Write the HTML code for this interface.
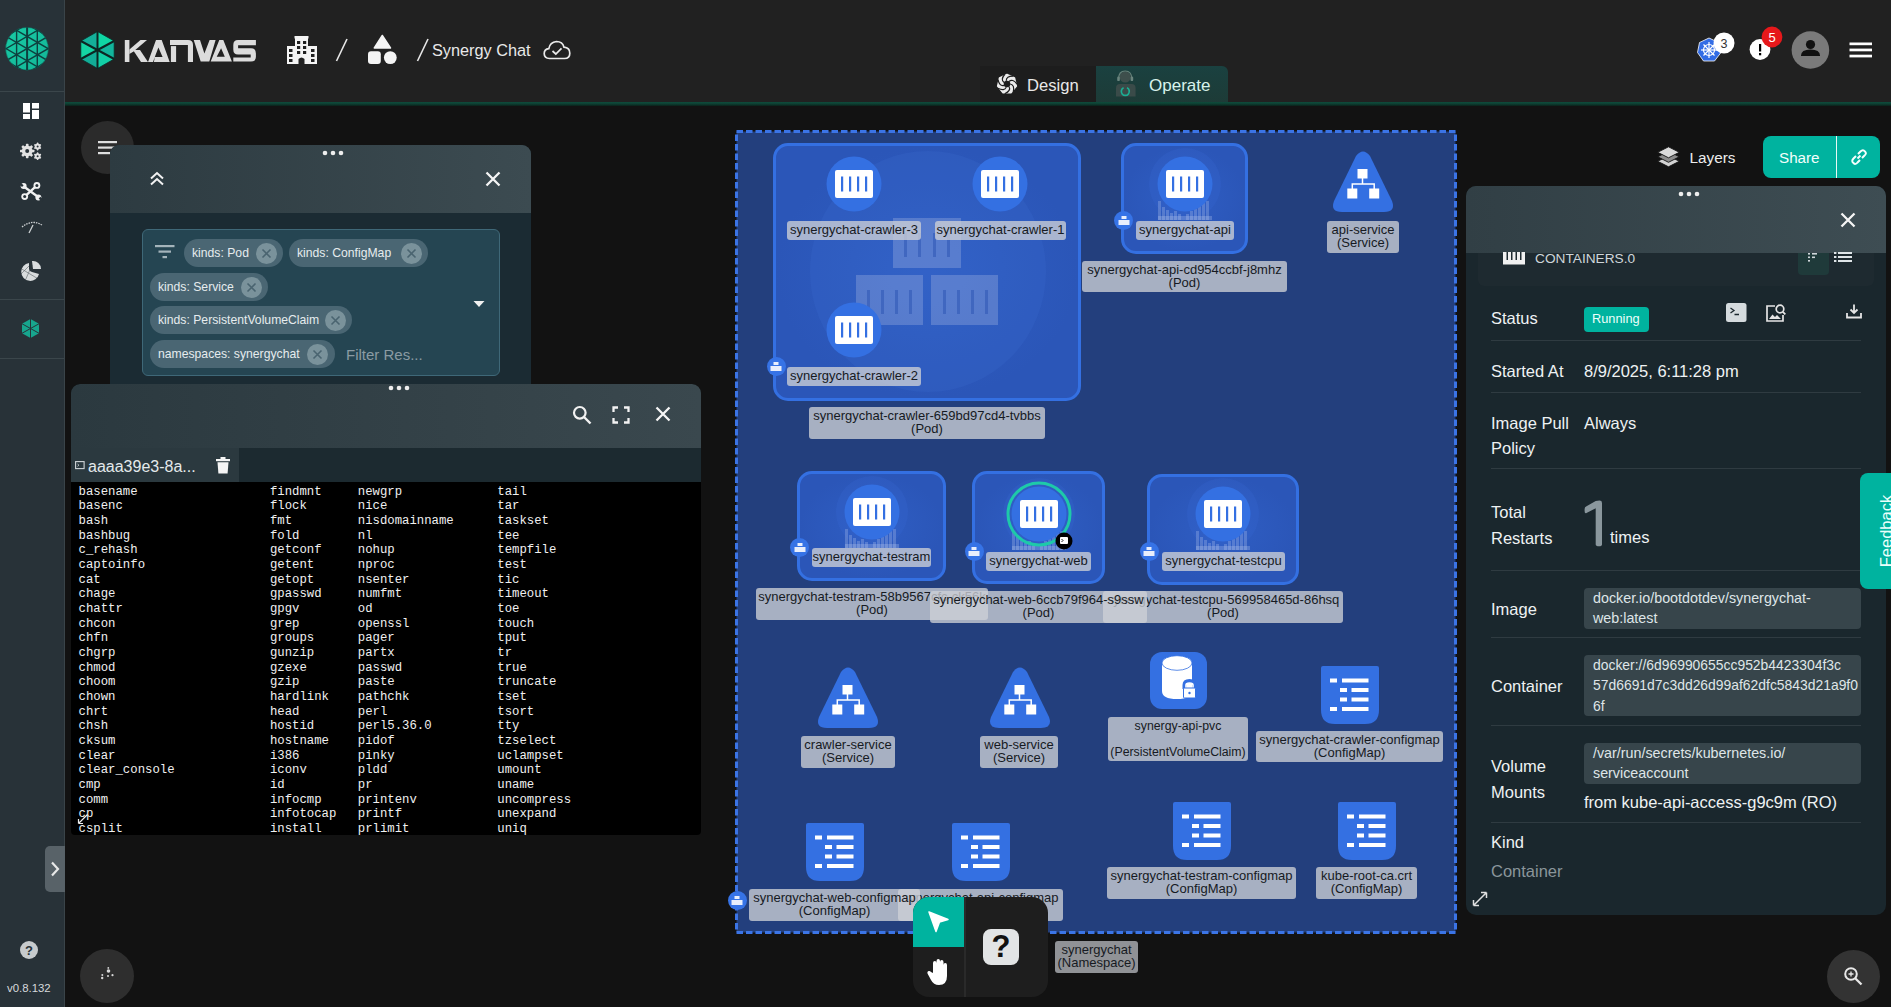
<!DOCTYPE html>
<html><head><meta charset="utf-8">
<style>
*{box-sizing:border-box;margin:0;padding:0}
html,body{width:1891px;height:1007px;overflow:hidden;background:#121212;font-family:"Liberation Sans",sans-serif;color:#fff}
.a{position:absolute}
svg{position:absolute;overflow:visible}
#side{left:0;top:0;width:65px;height:1007px;background:#283238;border-right:1px solid #3a4449}
.sep{position:absolute;left:0;width:64px;height:1px;background:#3b464b}
#hdr{left:65px;top:0;width:1826px;height:102px;background:#212121}
#hdrline{left:65px;top:101.5px;width:1826px;height:4px;background:linear-gradient(#0f4c3c,#0d4033 45%,#0b2019)}
.tx{position:absolute;white-space:nowrap;line-height:1}

.lbl{position:absolute;background:rgba(205,208,214,0.78);color:#161a22;font-size:13px;line-height:12.5px;text-align:center;border-radius:3px;white-space:nowrap;padding-top:3px}
.pod{position:absolute;border:3px solid #3470e2;border-radius:15px;background:radial-gradient(closest-side,#2f5ec4,#2b56b8)}
.bdg{position:absolute;width:19px;height:19px;border-radius:50%;background:#3673e6}

.chip{position:absolute;height:28px;border-radius:14px;background:#4a6673;color:#e6ecee;font-size:12.2px;line-height:29px;padding-left:8px;white-space:nowrap}
.chx{position:absolute;top:3.5px;width:21px;height:21px;border-radius:50%;background:#7a929b}
.mono{position:absolute;font-family:"Liberation Mono",monospace;font-size:12.3px;line-height:14.67px;color:#f0f0f0;white-space:pre}
.rl{position:absolute;left:1491px;font-size:16.5px;color:#eef2f3;white-space:nowrap;line-height:1}
.rv{position:absolute;left:1584px;font-size:16.5px;color:#eef2f3;white-space:nowrap;line-height:1}
.dv{position:absolute;left:1491px;width:370px;height:1px;background:#2f3b41}
.vb{position:absolute;left:1584px;width:277px;background:#37454b;border-radius:4px;color:#dfe5e8;font-size:14.3px;line-height:20.3px;padding:0 0 0 9px;white-space:nowrap}
</style></head><body>
<!-- SIDEBAR -->
<div id="side" class="a">
  <svg width="65" height="100" style="left:0;top:0">
    <defs><clipPath id="cc"><circle cx="27" cy="48.7" r="21.5"/></clipPath><linearGradient id="mg" x1="0" y1="0" x2="1" y2="1"><stop offset="0" stop-color="#19cba5"/><stop offset="1" stop-color="#13b597"/></linearGradient></defs>
    <circle cx="27" cy="48.7" r="21.5" fill="url(#mg)"/>
    <g clip-path="url(#cc)" stroke="#0e3f3e" stroke-width="1.4">
      <line x1="16.6" y1="20" x2="16.6" y2="80"/><line x1="27.1" y1="20" x2="27.1" y2="80" stroke-width="2"/><line x1="37.3" y1="20" x2="37.3" y2="80"/>
      <line x1="-10" y1="-21.7" x2="60" y2="18.9"/><line x1="-10" y1="21.3" x2="60" y2="-19.3"/><line x1="-10" y1="-9.5" x2="60" y2="31.1"/><line x1="-10" y1="33.5" x2="60" y2="-7.1"/><line x1="-10" y1="2.7" x2="60" y2="43.3"/><line x1="-10" y1="45.7" x2="60" y2="5.1"/><line x1="-10" y1="14.9" x2="60" y2="55.5"/><line x1="-10" y1="57.9" x2="60" y2="17.3"/><line x1="-10" y1="27.1" x2="60" y2="67.7"/><line x1="-10" y1="70.1" x2="60" y2="29.5"/><line x1="-10" y1="39.3" x2="60" y2="79.9"/><line x1="-10" y1="82.3" x2="60" y2="41.7"/><line x1="-10" y1="51.5" x2="60" y2="92.1"/><line x1="-10" y1="94.5" x2="60" y2="53.9"/><line x1="-10" y1="63.7" x2="60" y2="104.3"/><line x1="-10" y1="106.7" x2="60" y2="66.1"/><line x1="-10" y1="75.9" x2="60" y2="116.5"/><line x1="-10" y1="118.9" x2="60" y2="78.3"/>
    </g>
    <circle cx="27" cy="48.7" r="21.3" fill="none" stroke="#0e3f3e" stroke-width="0.8" opacity="0.6"/>
  </svg>
  <div class="sep" style="top:91px"></div>
  <svg width="16" height="16" style="left:23px;top:103px" viewBox="0 0 16 16"><rect x="0" y="0" width="7" height="9.5" fill="#fff"/><rect x="9" y="0" width="7" height="5.5" fill="#fff"/><rect x="0" y="11" width="7" height="5" fill="#fff"/><rect x="9" y="7" width="7" height="9" fill="#fff"/></svg>
  <svg width="26" height="22" style="left:18px;top:140px" viewBox="0 0 26 22"><circle cx="9.2" cy="11" r="5.4" fill="#e2e2e2"/><rect x="7.8999999999999995" y="3.8" width="2.6" height="2.8" rx="0.6" fill="#e2e2e2" transform="rotate(0.0 9.2 11)"/><rect x="7.8999999999999995" y="3.8" width="2.6" height="2.8" rx="0.6" fill="#e2e2e2" transform="rotate(45.0 9.2 11)"/><rect x="7.8999999999999995" y="3.8" width="2.6" height="2.8" rx="0.6" fill="#e2e2e2" transform="rotate(90.0 9.2 11)"/><rect x="7.8999999999999995" y="3.8" width="2.6" height="2.8" rx="0.6" fill="#e2e2e2" transform="rotate(135.0 9.2 11)"/><rect x="7.8999999999999995" y="3.8" width="2.6" height="2.8" rx="0.6" fill="#e2e2e2" transform="rotate(180.0 9.2 11)"/><rect x="7.8999999999999995" y="3.8" width="2.6" height="2.8" rx="0.6" fill="#e2e2e2" transform="rotate(225.0 9.2 11)"/><rect x="7.8999999999999995" y="3.8" width="2.6" height="2.8" rx="0.6" fill="#e2e2e2" transform="rotate(270.0 9.2 11)"/><rect x="7.8999999999999995" y="3.8" width="2.6" height="2.8" rx="0.6" fill="#e2e2e2" transform="rotate(315.0 9.2 11)"/><circle cx="9.2" cy="11" r="2.0" fill="#283238"/><circle cx="19.6" cy="6.5" r="2.9" fill="#e2e2e2"/><rect x="18.8" y="2.6" width="1.6" height="2.0" rx="0.6" fill="#e2e2e2" transform="rotate(0.0 19.6 6.5)"/><rect x="18.8" y="2.6" width="1.6" height="2.0" rx="0.6" fill="#e2e2e2" transform="rotate(60.0 19.6 6.5)"/><rect x="18.8" y="2.6" width="1.6" height="2.0" rx="0.6" fill="#e2e2e2" transform="rotate(120.0 19.6 6.5)"/><rect x="18.8" y="2.6" width="1.6" height="2.0" rx="0.6" fill="#e2e2e2" transform="rotate(180.0 19.6 6.5)"/><rect x="18.8" y="2.6" width="1.6" height="2.0" rx="0.6" fill="#e2e2e2" transform="rotate(240.0 19.6 6.5)"/><rect x="18.8" y="2.6" width="1.6" height="2.0" rx="0.6" fill="#e2e2e2" transform="rotate(300.0 19.6 6.5)"/><circle cx="19.6" cy="6.5" r="1.0" fill="#283238"/><circle cx="19.6" cy="16.2" r="2.9" fill="#e2e2e2"/><rect x="18.8" y="12.299999999999999" width="1.6" height="2.0" rx="0.6" fill="#e2e2e2" transform="rotate(0.0 19.6 16.2)"/><rect x="18.8" y="12.299999999999999" width="1.6" height="2.0" rx="0.6" fill="#e2e2e2" transform="rotate(60.0 19.6 16.2)"/><rect x="18.8" y="12.299999999999999" width="1.6" height="2.0" rx="0.6" fill="#e2e2e2" transform="rotate(120.0 19.6 16.2)"/><rect x="18.8" y="12.299999999999999" width="1.6" height="2.0" rx="0.6" fill="#e2e2e2" transform="rotate(180.0 19.6 16.2)"/><rect x="18.8" y="12.299999999999999" width="1.6" height="2.0" rx="0.6" fill="#e2e2e2" transform="rotate(240.0 19.6 16.2)"/><rect x="18.8" y="12.299999999999999" width="1.6" height="2.0" rx="0.6" fill="#e2e2e2" transform="rotate(300.0 19.6 16.2)"/><circle cx="19.6" cy="16.2" r="1.0" fill="#283238"/></svg>
  <svg width="22" height="22" style="left:20px;top:180px" viewBox="0 0 22 22">
<g stroke="#f2f2f2" stroke-width="2.3" stroke-linecap="round"><line x1="5" y1="16.3" x2="16.6" y2="5.7"/><line x1="4.5" y1="7" x2="17.5" y2="16.5"/></g>
<circle cx="16.9" cy="5.4" r="3.4" fill="#f2f2f2"/><circle cx="16.9" cy="5.4" r="1.5" fill="#283238"/>
<circle cx="4.7" cy="16.6" r="3.4" fill="#f2f2f2"/><circle cx="4.7" cy="16.6" r="1.5" fill="#283238"/>
<circle cx="3.6" cy="6" r="3" fill="#f2f2f2"/><rect x="1.8" y="1" width="2.4" height="4.5" fill="#283238" transform="rotate(-50 3.6 6)"/>
<circle cx="18.4" cy="17.6" r="3" fill="#f2f2f2"/><rect x="17.8" y="18.5" width="2.4" height="4.5" fill="#283238" transform="rotate(-50 18.4 17.6)"/>
</svg>
  <svg width="22" height="15" style="left:21px;top:220px" viewBox="0 0 22 15"><path d="M1 7 Q11 -1 21 5" stroke="#cfd3d5" stroke-width="1.3" fill="none" stroke-dasharray="1.5 1"/><line x1="12" y1="5" x2="8" y2="13" stroke="#cfd3d5" stroke-width="1.3"/></svg>
  <svg width="22" height="21" style="left:20px;top:260px" viewBox="0 0 22 21"><path d="M9 3 A9 9 0 1 0 19 14 L12 12 A3.5 3.5 0 0 1 9 9 Z" fill="#d9dcdd"/><path d="M12 1 A8 8 0 0 1 21 9 L13 9 Z" fill="#d9dcdd"/><g stroke="#283238" stroke-width="0.6" opacity=".7"><line x1="0" y1="8" x2="20" y2="20"/><line x1="0" y1="15" x2="12" y2="3"/><line x1="5" y1="21" x2="12" y2="5"/></g></svg>
  <div class="sep" style="top:299px"></div>
  <svg width="19" height="19" style="left:21px;top:319px" viewBox="0 0 19 19"><polygon points="9.5,0 18,4.75 18,14.25 9.5,19 1,14.25 1,4.75" fill="#17a58e"/><g stroke="#283238" stroke-width="1"><line x1="9.5" y1="0" x2="9.5" y2="19"/><line x1="1" y1="4.75" x2="18" y2="14.25"/><line x1="18" y1="4.75" x2="1" y2="14.25"/></g></svg>
  <div class="sep" style="top:358px"></div>
  <div class="a" style="left:45px;top:846px;width:20px;height:46px;background:#586268;border-radius:5px 0 0 5px"></div>
  <svg width="10" height="16" style="left:50px;top:861px" viewBox="0 0 10 16"><path d="M2 1.5 L8 8 L2 14.5" stroke="#e8e8e8" stroke-width="2.2" fill="none"/></svg>
  <svg width="18" height="18" style="left:20px;top:941px" viewBox="0 0 18 18"><circle cx="9" cy="9" r="9" fill="#c7cbcd"/><text x="9" y="14" text-anchor="middle" font-family="Liberation Sans" font-weight="bold" font-size="13" fill="#283238">?</text></svg>
  <div class="tx" style="left:7px;top:983px;font-size:11.4px;color:#d6d9db">v0.8.132</div>
</div>
<!-- HEADER -->
<div id="hdr" class="a"></div>
<div id="hdrline" class="a"></div>
<svg width="36" height="38" style="left:80px;top:31px" viewBox="0 0 36 38"><polygon points="17.5,19 17.5,0.5 34.2,10" fill="#0fd6a4"/><polygon points="17.5,19 34.2,10 34.2,28" fill="#12b59c"/><polygon points="17.5,19 34.2,28 17.5,37.5" fill="#12cfa6"/><polygon points="17.5,19 17.5,37.5 0.8,28" fill="#12ad97"/><polygon points="17.5,19 0.8,28 0.8,10" fill="#14d5a4"/><polygon points="17.5,19 0.8,10 17.5,0.5" fill="#14b09a"/><polygon points="17.5,0.5 34.2,10 34.2,28 17.5,37.5 0.8,28 0.8,10" fill="none" stroke="#0d2b27" stroke-width="0.8"/><g stroke="#0d2623" stroke-width="2"><line x1="17.5" y1="0" x2="17.5" y2="38"/><line x1="0.8" y1="10" x2="34.2" y2="28"/><line x1="34.2" y1="10" x2="0.8" y2="28"/></g></svg>
<svg width="140" height="30" style="left:120px;top:34px" viewBox="0 0 140 30">
  <g fill="#dcdcdc">
    <rect x="4.8" y="6" width="4.6" height="22"/>
    <polygon points="9.4,15.5 20.5,6 27,6 13.5,17.5 9.4,20"/>
    <polygon points="13,16 20,16 28,28 21,28"/>
    <path d="M28,28 L36,6 L41.7,6 L49.7,28 L34,28 L33.9,28 L34.8,22.9 L42.6,22.9 L38.4,13.6 L34.8,22.9 L33,28 Z" fill-rule="evenodd"/>
    <rect x="50.9" y="12.1" width="5.2" height="15.9"/>
    <path d="M50,6 L68,6 Q73,6 73,11 L73,28 L67.9,28 L67.9,11 L50,11 Z"/>
    <polygon points="73.7,6.1 80,6.1 84.4,19.4 89.6,6.1 95.6,6.1 89.3,27.6 80.7,27.6"/>
    <path d="M90.7,27.6 L99.3,6.1 L103.3,6.1 L111.9,27.6 Z M101.1,14.2 L96.7,22.7 L104.8,22.7 Z" fill-rule="evenodd"/>
    <path d="M118,6.1 L135.9,6.1 L135.9,11.3 L118.1,11.3 L118.1,14.2 L131,14.2 Q135.9,14.2 135.9,19.5 L135.9,23 Q135.9,27.6 131,27.6 L113.3,27.6 L113.3,23.5 L130.7,23.5 L130.7,20.5 L118,20.5 Q113.3,20.5 113.3,15.5 L113.3,11 Q113.3,6.1 118,6.1 Z"/>
  </g>
</svg>
<svg width="30" height="28" style="left:287px;top:36px" viewBox="0 0 30 28">
  <g fill="#f4f4f4"><rect x="7.5" y="0" width="14" height="2.5"/><rect x="8" y="2" width="13" height="26"/><rect x="0" y="10" width="8" height="18"/><rect x="21" y="10" width="9" height="18"/></g>
  <g fill="#212121">
    <rect x="10" y="5" width="3.2" height="3"/><rect x="16" y="5" width="3.2" height="3"/><rect x="10" y="10" width="3.2" height="3"/><rect x="16" y="10" width="3.2" height="3"/><rect x="10" y="15" width="3.2" height="3"/><rect x="16" y="15" width="3.2" height="3"/>
    <path d="M11.5,28 L11.5,23 Q14.5,20 17.5,23 L17.5,28 Z"/>
    <rect x="2" y="13" width="3.5" height="3"/><rect x="2" y="18" width="3.5" height="3"/><rect x="2" y="23" width="3.5" height="3"/>
    <rect x="24" y="13" width="3.5" height="3"/><rect x="24" y="18" width="3.5" height="3"/><rect x="24" y="23" width="3.5" height="3"/>
  </g>
</svg>
<svg width="14" height="24" style="left:335px;top:38px"><line x1="12" y1="1" x2="1.5" y2="23" stroke="#e8e8e8" stroke-width="1.6"/></svg>
<svg width="32" height="30" style="left:367px;top:35px" viewBox="0 0 32 30">
  <g fill="#f4f4f4"><path d="M15.3,0.5 L23.5,13 L7.3,13 Z" stroke="#f4f4f4" stroke-width="1.5" stroke-linejoin="round"/><rect x="1" y="16.3" width="12.8" height="12.7" rx="3"/><circle cx="23.3" cy="22.6" r="6.4"/></g>
</svg>
<svg width="14" height="24" style="left:416px;top:38px"><line x1="12" y1="1" x2="1.5" y2="23" stroke="#e8e8e8" stroke-width="1.6"/></svg>
<div class="tx" style="left:432px;top:42px;font-size:16.3px;color:#e9e9e9">Synergy Chat</div>
<svg width="28" height="20" style="left:543px;top:40px" viewBox="0 0 28 20">
  <path d="M6.5,18.5 Q1.2,18.5 1.2,13.5 Q1.2,9 5.8,8.6 Q7,2.2 13.5,1.5 Q19.5,1.5 21,7.2 Q26.8,7.8 26.8,13.2 Q26.8,18.5 21.5,18.5 Z" fill="none" stroke="#eaeaea" stroke-width="1.7"/>
  <path d="M9.5,11 L12.8,14 L18.5,8.3" fill="none" stroke="#eaeaea" stroke-width="1.7"/>
</svg>
<!-- tabs -->
<div class="a" style="left:980px;top:66px;width:116px;height:36px;background:#1d1d1d"></div>
<div class="a" style="left:1096px;top:66px;width:132px;height:36px;background:linear-gradient(#1a4140,#1d3b37);border-radius:0 6px 0 0"></div>
<svg width="20" height="20" style="left:997px;top:74px" viewBox="0 0 20 20"><polygon points="10.00,0.40 17.51,4.01 19.36,12.14 14.17,18.65 5.83,18.65 0.64,12.14 2.49,4.01" fill="#ececec" stroke="#ececec" stroke-width="1.5" stroke-linejoin="round"/><circle cx="10" cy="10" r="3.3" fill="#1d1d1d"/><path d="M13.20,10.00 Q17.96,10.80 16.22,17.83" stroke="#1d1d1d" stroke-width="1.2" fill="none"/><path d="M12.00,12.50 Q14.34,16.72 7.75,19.74" stroke="#1d1d1d" stroke-width="1.2" fill="none"/><path d="M9.29,13.12 Q7.45,17.58 0.98,14.32" stroke="#1d1d1d" stroke-width="1.2" fill="none"/><path d="M7.12,11.39 Q2.48,12.73 1.00,5.64" stroke="#1d1d1d" stroke-width="1.2" fill="none"/><path d="M7.12,8.61 Q3.17,5.83 7.80,0.25" stroke="#1d1d1d" stroke-width="1.2" fill="none"/><path d="M9.29,6.88 Q9.01,2.06 16.25,2.20" stroke="#1d1d1d" stroke-width="1.2" fill="none"/><path d="M12.00,7.50 Q15.59,4.27 20.00,10.02" stroke="#1d1d1d" stroke-width="1.2" fill="none"/></svg>
<div class="tx" style="left:1027px;top:77.5px;font-size:16.6px;color:#e8e8e8">Design</div>
<svg width="22" height="27" style="left:1115px;top:70px" viewBox="0 0 22 27">
  <path d="M1,26.5 L1,18 Q1,14 5,14 L16.5,14 Q20.6,14 20.6,18 L20.6,26.5 Z" fill="#3a4b49"/>
  <circle cx="10.2" cy="7" r="5.6" fill="#3e4f4c"/>
  <path d="M3.6,9 Q3.6,1 10.2,1 Q16.8,1 16.8,9" fill="none" stroke="#668079" stroke-width="1.2"/>
  <rect x="2.2" y="6.5" width="2.6" height="4.6" rx="1.2" fill="#6a847d"/><rect x="15.6" y="6.5" width="2.6" height="4.6" rx="1.2" fill="#6a847d"/>
  <path d="M12,17.8 A4,4 0 1 1 8.6,17.8" fill="none" stroke="#1aae93" stroke-width="1.7"/>
</svg>
<div class="tx" style="left:1149px;top:77px;font-size:17px;color:#d8f3ec">Operate</div>
<!-- right icons -->
<svg width="26" height="26" style="left:1697px;top:37px" viewBox="0 0 26 26">
  <polygon points="12,1 21.5,5.5 24,15.5 17.5,24 6.5,24 0.5,15.5 2.5,5.5" fill="#326ce5" stroke="#fff" stroke-width="0.8"/>
  <g stroke="#fff" stroke-width="1.2" fill="none"><circle cx="12" cy="13" r="5.5"/><line x1="12" y1="5" x2="12" y2="21"/><line x1="4" y1="13" x2="20" y2="13"/><line x1="6.5" y1="7.5" x2="17.5" y2="18.5"/><line x1="17.5" y1="7.5" x2="6.5" y2="18.5"/></g>
</svg>
<svg width="24" height="24" style="left:1713px;top:32px"><circle cx="11" cy="11" r="10.5" fill="#fff"/><text x="11" y="15.5" text-anchor="middle" font-family="Liberation Sans" font-size="12.5" fill="#333">3</text></svg>
<svg width="24" height="24" style="left:1749px;top:39px"><circle cx="11" cy="10.5" r="10.4" fill="#fff"/><rect x="10" y="5" width="2.2" height="7.5" fill="#000"/><rect x="10" y="14" width="2.2" height="2.3" fill="#000"/></svg>
<svg width="24" height="24" style="left:1761px;top:26px"><circle cx="11" cy="11" r="10.4" fill="#e6181b"/><text x="11" y="15.5" text-anchor="middle" font-family="Liberation Sans" font-size="13" fill="#fff">5</text></svg>
<svg width="40" height="40" style="left:1791px;top:31px" viewBox="0 0 40 40"><circle cx="19.4" cy="19" r="18.8" fill="#7a7a7a"/><circle cx="19.5" cy="13.5" r="4.6" fill="#111"/><path d="M10,24.5 Q10,18.5 19.5,18.5 Q29,18.5 29,24.5 L29,25 L10,25 Z" fill="#111"/></svg>
<svg width="24" height="16" style="left:1849px;top:42px"><rect x="0.5" y="0.5" width="22.5" height="2.7" fill="#fff"/><rect x="0.5" y="6.6" width="22.5" height="2.7" fill="#fff"/><rect x="0.5" y="12.7" width="22.5" height="2.7" fill="#fff"/></svg>
<!-- FILTER PANEL -->
<div class="a" style="left:81px;top:121px;width:53px;height:53px;border-radius:50%;background:#2b2b2b"></div>
<svg width="22" height="14" style="left:97px;top:141px"><rect x="1" y="0" width="19" height="2.2" fill="#dedede"/><rect x="1" y="5.5" width="19" height="2.2" fill="#dedede"/><rect x="1" y="11" width="12" height="2.2" fill="#dedede"/></svg>
<div class="a" style="left:110px;top:145px;width:421px;height:245px;border-radius:9px 9px 0 0;overflow:hidden;background:#1b2b33">
  <div class="a" style="left:0;top:0;width:421px;height:68px;background:linear-gradient(90deg,#2d3b41,#3c4b51)"></div>
</div>
<svg width="24" height="8" style="left:321px;top:149px"><circle cx="4" cy="4" r="2.3" fill="#eee"/><circle cx="12" cy="4" r="2.3" fill="#eee"/><circle cx="20" cy="4" r="2.3" fill="#eee"/></svg>
<svg width="16" height="16" style="left:149px;top:170px"><path d="M2,8.5 L8,3 L14,8.5 M2,14.5 L8,9 L14,14.5" stroke="#f2f2f2" stroke-width="2" fill="none"/></svg>
<svg width="16" height="16" style="left:485px;top:171px"><path d="M1.5,1.5 L14.5,14.5 M14.5,1.5 L1.5,14.5" stroke="#f5f5f5" stroke-width="2.3"/></svg>
<div class="a" style="left:142px;top:229px;width:358px;height:147px;border-radius:6px;border:1.6px solid #3f6878;background:#254552"></div>
<svg width="20" height="15" style="left:155px;top:245px"><rect x="0" y="0" width="19.5" height="2.2" fill="#a4b4bb"/><rect x="3.5" y="5.5" width="12.5" height="2.2" fill="#a4b4bb"/><rect x="7.5" y="11" width="4.5" height="2.2" fill="#a4b4bb"/></svg>
<svg width="12" height="8" style="left:473px;top:300px"><path d="M0.5,1 L11.5,1 L6,7 Z" fill="#f0f0f0"/></svg>
<div class="chip" style="left:184px;top:239px;width:99px">kinds: Pod<div class="chx" style="left:71.89999999999998px"><svg width="21" height="21" viewBox="0 0 21 21"><path d="M6.5,6.5 L14.5,14.5 M14.5,6.5 L6.5,14.5" stroke="#4a6470" stroke-width="1.6"/></svg></div></div><div class="chip" style="left:289px;top:239px;width:139px">kinds: ConfigMap<div class="chx" style="left:111.80000000000001px"><svg width="21" height="21" viewBox="0 0 21 21"><path d="M6.5,6.5 L14.5,14.5 M14.5,6.5 L6.5,14.5" stroke="#4a6470" stroke-width="1.6"/></svg></div></div><div class="chip" style="left:150px;top:273px;width:118px">kinds: Service<div class="chx" style="left:90.9px"><svg width="21" height="21" viewBox="0 0 21 21"><path d="M6.5,6.5 L14.5,14.5 M14.5,6.5 L6.5,14.5" stroke="#4a6470" stroke-width="1.6"/></svg></div></div><div class="chip" style="left:150px;top:306px;width:202px">kinds: PersistentVolumeClaim<div class="chx" style="left:174.5px"><svg width="21" height="21" viewBox="0 0 21 21"><path d="M6.5,6.5 L14.5,14.5 M14.5,6.5 L6.5,14.5" stroke="#4a6470" stroke-width="1.6"/></svg></div></div><div class="chip" style="left:150px;top:340px;width:185px">namespaces: synergychat<div class="chx" style="left:157.3px"><svg width="21" height="21" viewBox="0 0 21 21"><path d="M6.5,6.5 L14.5,14.5 M14.5,6.5 L6.5,14.5" stroke="#4a6470" stroke-width="1.6"/></svg></div></div><div class="tx" style="left:346px;top:347px;font-size:15px;color:#8b9ba3">Filter Res...</div>
<!-- TERMINAL -->
<div class="a" style="left:71px;top:384px;width:630px;height:451px;border-radius:9px 9px 4px 4px;overflow:hidden;background:#000">
  <div class="a" style="left:0;top:0;width:630px;height:64px;background:linear-gradient(90deg,#2b393f,#3a484e)"></div>
  <div class="a" style="left:0;top:64px;width:630px;height:34px;background:#1c2a30"></div>
  <div class="a" style="left:0;top:64px;width:168px;height:34px;background:#2b393f"></div>
</div>
<svg width="24" height="8" style="left:387px;top:384px"><circle cx="4" cy="4" r="2.3" fill="#eee"/><circle cx="12" cy="4" r="2.3" fill="#eee"/><circle cx="20" cy="4" r="2.3" fill="#eee"/></svg>
<svg width="20" height="20" style="left:572px;top:405px"><circle cx="7.8" cy="7.8" r="5.8" stroke="#f2f2f2" stroke-width="2.2" fill="none"/><path d="M12,12 L18.5,18.5" stroke="#f2f2f2" stroke-width="2.4"/></svg>
<svg width="18" height="18" style="left:612px;top:406px"><path d="M1.5,6 L1.5,1.5 L6,1.5 M12,1.5 L16.5,1.5 L16.5,6 M16.5,12 L16.5,16.5 L12,16.5 M6,16.5 L1.5,16.5 L1.5,12" stroke="#f2f2f2" stroke-width="2.3" fill="none"/></svg>
<svg width="16" height="16" style="left:655px;top:406px"><path d="M1.5,1.5 L14.5,14.5 M14.5,1.5 L1.5,14.5" stroke="#f5f5f5" stroke-width="2.3"/></svg>
<svg width="10" height="9" style="left:75px;top:461px"><rect x="0.6" y="0.6" width="8.5" height="7" fill="none" stroke="#cfd6d9" stroke-width="1.1"/><path d="M2.5,3 L4,4.2 L2.5,5.4" stroke="#cfd6d9" stroke-width="0.8" fill="none"/></svg>
<div class="tx" style="left:88px;top:458.5px;font-size:16px;color:#e4e9eb">aaaa39e3-8a...</div>
<svg width="14" height="17" style="left:216px;top:457px"><rect x="0" y="2" width="14" height="2.2" fill="#f5f5f5"/><rect x="4.5" y="0" width="5" height="2.5" fill="#f5f5f5"/><path d="M1.5,5.2 L12.5,5.2 L11.6,16.5 L2.4,16.5 Z" fill="#f5f5f5"/></svg>
<div class="mono" style="left:78.6px;top:484.5px">basename
basenc
bash
bashbug
c_rehash
captoinfo
cat
chage
chattr
chcon
chfn
chgrp
chmod
choom
chown
chrt
chsh
cksum
clear
clear_console
cmp
comm
cp
csplit</div>
<div class="mono" style="left:269.9px;top:484.5px">findmnt
flock
fmt
fold
getconf
getent
getopt
gpasswd
gpgv
grep
groups
gunzip
gzexe
gzip
hardlink
head
hostid
hostname
i386
iconv
id
infocmp
infotocap
install</div>
<div class="mono" style="left:357.8px;top:484.5px">newgrp
nice
nisdomainname
nl
nohup
nproc
nsenter
numfmt
od
openssl
pager
partx
passwd
paste
pathchk
perl
perl5.36.0
pidof
pinky
pldd
pr
printenv
printf
prlimit</div>
<div class="mono" style="left:497.3px;top:484.5px">tail
tar
taskset
tee
tempfile
test
tic
timeout
toe
touch
tput
tr
true
truncate
tset
tsort
tty
tzselect
uclampset
umount
uname
uncompress
unexpand
uniq</div>
<svg width="12" height="12" style="left:77px;top:813px"><path d="M1.5,10.5 L10.5,1.5 M1.5,10.5 L1.5,6 M1.5,10.5 L6,10.5" stroke="#eee" stroke-width="1.2" fill="none"/></svg>
<div class="a" style="left:80px;top:949px;width:54px;height:54px;border-radius:50%;background:#2e2e2e"></div><svg width="16" height="14" style="left:100px;top:967px"><g fill="#d8d8d8"><circle cx="8.5" cy="4" r="1.8"/><circle cx="8.3" cy="0.9" r="0.9"/><circle cx="2.3" cy="8" r="1"/><circle cx="2.2" cy="11" r="1.2"/><circle cx="8" cy="9" r="1"/><circle cx="12.5" cy="8.2" r="1.1"/></g></svg>
<!-- CANVAS -->
<svg width="724" height="806" style="left:734px;top:129px"><rect x="2.5" y="2.5" width="719" height="801" fill="#233f7d" stroke="#3b74e6" stroke-width="3" stroke-dasharray="6.5 3"/></svg>
<div class="pod" style="left:773px;top:143px;width:308px;height:258px"></div><div class="a" style="left:810px;top:151px;width:236px;height:241px;border-radius:50%;background:rgba(70,120,220,0.16)"></div><svg width="144" height="110" style="left:855px;top:217px" viewBox="0 0 144 110"><g fill="rgba(200,210,235,0.26)"><rect x="38" y="1" width="68" height="50"/><rect x="1" y="58" width="67" height="50"/><rect x="76" y="58" width="67" height="50"/></g><g fill="rgba(45,85,180,0.55)"><rect x="49" y="16" width="3" height="24"/><rect x="63" y="16" width="3" height="24"/><rect x="78" y="16" width="3" height="24"/><rect x="92" y="16" width="3" height="24"/><rect x="12" y="73" width="3" height="24"/><rect x="26" y="73" width="3" height="24"/><rect x="40" y="73" width="3" height="24"/><rect x="54" y="73" width="3" height="24"/><rect x="88" y="73" width="3" height="24"/><rect x="102" y="73" width="3" height="24"/><rect x="116" y="73" width="3" height="24"/><rect x="130" y="73" width="3" height="24"/></g></svg><svg width="58" height="58" style="left:825px;top:155px" viewBox="0 0 58 58"><circle cx="29" cy="29" r="27.5" fill="#3470e2"/><rect x="10" y="15" width="38" height="28" rx="2" fill="#fff"/><g fill="#3470e2"><rect x="16" y="21.5" width="2.2" height="15"/><rect x="24" y="21.5" width="2.2" height="15"/><rect x="32" y="21.5" width="2.2" height="15"/><rect x="40" y="21.5" width="2.2" height="15"/></g></svg><svg width="58" height="58" style="left:971px;top:155px" viewBox="0 0 58 58"><circle cx="29" cy="29" r="27.5" fill="#3470e2"/><rect x="10" y="15" width="38" height="28" rx="2" fill="#fff"/><g fill="#3470e2"><rect x="16" y="21.5" width="2.2" height="15"/><rect x="24" y="21.5" width="2.2" height="15"/><rect x="32" y="21.5" width="2.2" height="15"/><rect x="40" y="21.5" width="2.2" height="15"/></g></svg><svg width="58" height="58" style="left:825px;top:301px" viewBox="0 0 58 58"><circle cx="29" cy="29" r="27.5" fill="#3470e2"/><rect x="10" y="15" width="38" height="28" rx="2" fill="#fff"/><g fill="#3470e2"><rect x="16" y="21.5" width="2.2" height="15"/><rect x="24" y="21.5" width="2.2" height="15"/><rect x="32" y="21.5" width="2.2" height="15"/><rect x="40" y="21.5" width="2.2" height="15"/></g></svg><div class="lbl" style="left:787px;top:221px;width:134px;height:19px;">synergychat-crawler-3</div><div class="lbl" style="left:935px;top:221px;width:131px;height:19px;">synergychat-crawler-1</div><div class="lbl" style="left:787px;top:367px;width:134px;height:19px;">synergychat-crawler-2</div><div class="bdg" style="left:766.5px;top:356.5px"></div><svg width="12" height="9" style="left:770px;top:362px" viewBox="0 0 12 9"><rect x="3.5" y="0" width="5" height="3" fill="#e8eefc"/><rect x="0.5" y="4" width="11" height="5" fill="#e8eefc"/></svg><div class="lbl" style="left:809px;top:407px;width:236px;height:32px;">synergychat-crawler-659bd97cd4-tvbbs<br>(Pod)</div><div class="pod" style="left:1121px;top:143px;width:127px;height:111px"></div><div class="a" style="left:1149px;top:148px;width:72px;height:72px;border-radius:50%;background:rgba(60,110,220,0.18)"></div><svg width="54" height="19" style="left:1158px;top:201px" viewBox="0 0 54 19"><g fill="rgba(190,205,240,0.28)"><rect x="0" y="0" width="3" height="19"/><rect x="4" y="6" width="3" height="13"/><rect x="8" y="9" width="3" height="10"/><rect x="12" y="12" width="3" height="7"/><rect x="16" y="10" width="3" height="9"/><rect x="20" y="13" width="3" height="6"/><rect x="28" y="13" width="3" height="6"/><rect x="32" y="10" width="3" height="9"/><rect x="36" y="8" width="3" height="11"/><rect x="40" y="5" width="3" height="14"/><rect x="44" y="2" width="3" height="17"/><rect x="48" y="0" width="3" height="19"/><rect x="0" y="15" width="54" height="4"/></g></svg><svg width="58" height="58" style="left:1156px;top:155px" viewBox="0 0 58 58"><circle cx="29" cy="29" r="27.5" fill="#3470e2"/><rect x="10" y="15" width="38" height="28" rx="2" fill="#fff"/><g fill="#3470e2"><rect x="16" y="21.5" width="2.2" height="15"/><rect x="24" y="21.5" width="2.2" height="15"/><rect x="32" y="21.5" width="2.2" height="15"/><rect x="40" y="21.5" width="2.2" height="15"/></g></svg><div class="lbl" style="left:1136px;top:221px;width:98px;height:19px;">synergychat-api</div><div class="bdg" style="left:1114.0px;top:210.5px"></div><svg width="12" height="9" style="left:1117.5px;top:216px" viewBox="0 0 12 9"><rect x="3.5" y="0" width="5" height="3" fill="#e8eefc"/><rect x="0.5" y="4" width="11" height="5" fill="#e8eefc"/></svg><div class="lbl" style="left:1082px;top:261px;width:205px;height:31px;">synergychat-api-cd954ccbf-j8mhz<br>(Pod)</div><svg width="62" height="62" style="left:1332px;top:151px" viewBox="0 0 62 62"><path d="M24,5 Q31,-4 38,5 L60,50 Q64,61 52,61 L10,61 Q-2,61 2,50 Z" fill="#3470e2"/><g fill="#fff"><rect x="25.5" y="18" width="10" height="9.5"/><rect x="15.3" y="37.5" width="10" height="10"/><rect x="37.2" y="37.5" width="10" height="10"/></g><g stroke="#fff" stroke-width="1.5" fill="none"><path d="M30.5,27 L30.5,33 M20.3,38 L20.3,33 L42.2,33 L42.2,38"/></g></svg><div class="lbl" style="left:1327px;top:221px;width:72px;height:32px;">api-service<br>(Service)</div><div class="pod" style="left:797px;top:471px;width:149px;height:110px"></div><div class="a" style="left:836px;top:476px;width:72px;height:72px;border-radius:50%;background:rgba(60,110,220,0.18)"></div><svg width="54" height="19" style="left:845px;top:529px" viewBox="0 0 54 19"><g fill="rgba(190,205,240,0.28)"><rect x="0" y="0" width="3" height="19"/><rect x="4" y="6" width="3" height="13"/><rect x="8" y="9" width="3" height="10"/><rect x="12" y="12" width="3" height="7"/><rect x="16" y="10" width="3" height="9"/><rect x="20" y="13" width="3" height="6"/><rect x="28" y="13" width="3" height="6"/><rect x="32" y="10" width="3" height="9"/><rect x="36" y="8" width="3" height="11"/><rect x="40" y="5" width="3" height="14"/><rect x="44" y="2" width="3" height="17"/><rect x="48" y="0" width="3" height="19"/><rect x="0" y="15" width="54" height="4"/></g></svg><svg width="58" height="58" style="left:843px;top:483px" viewBox="0 0 58 58"><circle cx="29" cy="29" r="27.5" fill="#3470e2"/><rect x="10" y="15" width="38" height="28" rx="2" fill="#fff"/><g fill="#3470e2"><rect x="16" y="21.5" width="2.2" height="15"/><rect x="24" y="21.5" width="2.2" height="15"/><rect x="32" y="21.5" width="2.2" height="15"/><rect x="40" y="21.5" width="2.2" height="15"/></g></svg><div class="lbl" style="left:812px;top:548px;width:119px;height:19px;">synergychat-testram</div><div class="bdg" style="left:790.0px;top:537.5px"></div><svg width="12" height="9" style="left:793.5px;top:543px" viewBox="0 0 12 9"><rect x="3.5" y="0" width="5" height="3" fill="#e8eefc"/><rect x="0.5" y="4" width="11" height="5" fill="#e8eefc"/></svg><div class="pod" style="left:972px;top:471px;width:133px;height:113px"></div><div class="a" style="left:1003px;top:478px;width:72px;height:72px;border-radius:50%;background:rgba(60,110,220,0.18)"></div><svg width="54" height="19" style="left:1012px;top:531px" viewBox="0 0 54 19"><g fill="rgba(190,205,240,0.28)"><rect x="0" y="0" width="3" height="19"/><rect x="4" y="6" width="3" height="13"/><rect x="8" y="9" width="3" height="10"/><rect x="12" y="12" width="3" height="7"/><rect x="16" y="10" width="3" height="9"/><rect x="20" y="13" width="3" height="6"/><rect x="28" y="13" width="3" height="6"/><rect x="32" y="10" width="3" height="9"/><rect x="36" y="8" width="3" height="11"/><rect x="40" y="5" width="3" height="14"/><rect x="44" y="2" width="3" height="17"/><rect x="48" y="0" width="3" height="19"/><rect x="0" y="15" width="54" height="4"/></g></svg><svg width="58" height="58" style="left:1010px;top:485px" viewBox="0 0 58 58"><circle cx="29" cy="29" r="27.5" fill="#3470e2"/><rect x="10" y="15" width="38" height="28" rx="2" fill="#fff"/><g fill="#3470e2"><rect x="16" y="21.5" width="2.2" height="15"/><rect x="24" y="21.5" width="2.2" height="15"/><rect x="32" y="21.5" width="2.2" height="15"/><rect x="40" y="21.5" width="2.2" height="15"/></g></svg><svg width="70" height="70" style="left:1004px;top:479px"><circle cx="35" cy="35" r="31" fill="none" stroke="#1ec9a9" stroke-width="3"/></svg><svg width="18" height="18" style="left:1055px;top:532px"><circle cx="9" cy="9" r="8.5" fill="#000"/><rect x="5" y="5" width="8" height="7" fill="#fff" rx="1"/><path d="M6.5,7 L8,8.5 L6.5,10" stroke="#000" stroke-width="0.9" fill="none"/></svg><div class="lbl" style="left:986px;top:552px;width:105px;height:19px;">synergychat-web</div><div class="bdg" style="left:964.5px;top:541.5px"></div><svg width="12" height="9" style="left:968px;top:547px" viewBox="0 0 12 9"><rect x="3.5" y="0" width="5" height="3" fill="#e8eefc"/><rect x="0.5" y="4" width="11" height="5" fill="#e8eefc"/></svg><div class="pod" style="left:1147px;top:474px;width:152px;height:111px"></div><div class="a" style="left:1187px;top:478px;width:72px;height:72px;border-radius:50%;background:rgba(60,110,220,0.18)"></div><svg width="54" height="19" style="left:1196px;top:531px" viewBox="0 0 54 19"><g fill="rgba(190,205,240,0.28)"><rect x="0" y="0" width="3" height="19"/><rect x="4" y="6" width="3" height="13"/><rect x="8" y="9" width="3" height="10"/><rect x="12" y="12" width="3" height="7"/><rect x="16" y="10" width="3" height="9"/><rect x="20" y="13" width="3" height="6"/><rect x="28" y="13" width="3" height="6"/><rect x="32" y="10" width="3" height="9"/><rect x="36" y="8" width="3" height="11"/><rect x="40" y="5" width="3" height="14"/><rect x="44" y="2" width="3" height="17"/><rect x="48" y="0" width="3" height="19"/><rect x="0" y="15" width="54" height="4"/></g></svg><svg width="58" height="58" style="left:1194px;top:485px" viewBox="0 0 58 58"><circle cx="29" cy="29" r="27.5" fill="#3470e2"/><rect x="10" y="15" width="38" height="28" rx="2" fill="#fff"/><g fill="#3470e2"><rect x="16" y="21.5" width="2.2" height="15"/><rect x="24" y="21.5" width="2.2" height="15"/><rect x="32" y="21.5" width="2.2" height="15"/><rect x="40" y="21.5" width="2.2" height="15"/></g></svg><div class="lbl" style="left:1162px;top:552px;width:123px;height:19px;">synergychat-testcpu</div><div class="bdg" style="left:1139.5px;top:541.5px"></div><svg width="12" height="9" style="left:1143px;top:547px" viewBox="0 0 12 9"><rect x="3.5" y="0" width="5" height="3" fill="#e8eefc"/><rect x="0.5" y="4" width="11" height="5" fill="#e8eefc"/></svg><div class="lbl" style="left:756px;top:588px;width:232px;height:32px;text-indent:0">synergychat-testram-58b9567cfc-ck56k<br>(Pod)</div><div class="lbl" style="left:1103px;top:591px;width:240px;height:32px;">synergychat-testcpu-569958465d-86hsq<br>(Pod)</div><div class="lbl" style="left:930px;top:591px;width:217px;height:32px;">synergychat-web-6ccb79f964-s9ssw<br>(Pod)</div><svg width="62" height="62" style="left:817px;top:667px" viewBox="0 0 62 62"><path d="M24,5 Q31,-4 38,5 L60,50 Q64,61 52,61 L10,61 Q-2,61 2,50 Z" fill="#3470e2"/><g fill="#fff"><rect x="25.5" y="18" width="10" height="9.5"/><rect x="15.3" y="37.5" width="10" height="10"/><rect x="37.2" y="37.5" width="10" height="10"/></g><g stroke="#fff" stroke-width="1.5" fill="none"><path d="M30.5,27 L30.5,33 M20.3,38 L20.3,33 L42.2,33 L42.2,38"/></g></svg><div class="lbl" style="left:801px;top:736px;width:94px;height:32px;">crawler-service<br>(Service)</div><svg width="62" height="62" style="left:989px;top:667px" viewBox="0 0 62 62"><path d="M24,5 Q31,-4 38,5 L60,50 Q64,61 52,61 L10,61 Q-2,61 2,50 Z" fill="#3470e2"/><g fill="#fff"><rect x="25.5" y="18" width="10" height="9.5"/><rect x="15.3" y="37.5" width="10" height="10"/><rect x="37.2" y="37.5" width="10" height="10"/></g><g stroke="#fff" stroke-width="1.5" fill="none"><path d="M30.5,27 L30.5,33 M20.3,38 L20.3,33 L42.2,33 L42.2,38"/></g></svg><div class="lbl" style="left:980px;top:736px;width:78px;height:32px;">web-service<br>(Service)</div><svg width="58" height="58" style="left:1150px;top:652px" viewBox="0 0 58 58"><rect x="0" y="0" width="57" height="57" rx="12" fill="#3470e2"/><path d="M12,10 L12,39 Q12,47 27,47 Q42,47 42,39 L42,10 Z" fill="#fff"/><ellipse cx="27" cy="11" rx="15" ry="7.3" fill="#fff" stroke="#3470e2" stroke-width="0.8"/><path d="M34.5,37 L34.5,33 Q34.5,29 39.5,29 Q44.5,29 44.5,33 L44.5,37" fill="none" stroke="#3470e2" stroke-width="4"/><path d="M36,37 L36,33 Q36,31 39.5,31 Q43,31 43,33 L43,37" fill="none" stroke="#fff" stroke-width="1.6"/><rect x="33.5" y="36" width="12" height="10" rx="1" fill="#fff" stroke="#3470e2" stroke-width="1"/><circle cx="39.5" cy="41" r="1.2" fill="#3470e2"/></svg><div class="lbl" style="left:1108px;top:717px;width:140px;height:44px;line-height:13px;padding-top:3px;font-size:12.3px">synergy-api-pvc<br><br>(PersistentVolumeClaim)</div><svg width="58" height="58" style="left:1321px;top:666px" viewBox="0 0 58 58"><path d="M0,2 Q0,0 2,0 L56,0 Q58,0 58,2 L58,44 Q58,58 44,58 L14,58 Q0,58 0,44 Z" fill="#3470e2"/><g fill="#fff"><rect x="9" y="12.5" width="7" height="4"/><rect x="21" y="12.5" width="26.5" height="4"/><rect x="19" y="22" width="7" height="4"/><rect x="30.5" y="22" width="17" height="4"/><rect x="19" y="31.5" width="7" height="4"/><rect x="30.5" y="31.5" width="17" height="4"/><rect x="9" y="41" width="7" height="4"/><rect x="21" y="41" width="26.5" height="4"/></g></svg><div class="lbl" style="left:1256px;top:731px;width:187px;height:31px;">synergychat-crawler-configmap<br>(ConfigMap)</div><svg width="58" height="58" style="left:806px;top:823px" viewBox="0 0 58 58"><path d="M0,2 Q0,0 2,0 L56,0 Q58,0 58,2 L58,44 Q58,58 44,58 L14,58 Q0,58 0,44 Z" fill="#3470e2"/><g fill="#fff"><rect x="9" y="12.5" width="7" height="4"/><rect x="21" y="12.5" width="26.5" height="4"/><rect x="19" y="22" width="7" height="4"/><rect x="30.5" y="22" width="17" height="4"/><rect x="19" y="31.5" width="7" height="4"/><rect x="30.5" y="31.5" width="17" height="4"/><rect x="9" y="41" width="7" height="4"/><rect x="21" y="41" width="26.5" height="4"/></g></svg><svg width="58" height="58" style="left:952px;top:823px" viewBox="0 0 58 58"><path d="M0,2 Q0,0 2,0 L56,0 Q58,0 58,2 L58,44 Q58,58 44,58 L14,58 Q0,58 0,44 Z" fill="#3470e2"/><g fill="#fff"><rect x="9" y="12.5" width="7" height="4"/><rect x="21" y="12.5" width="26.5" height="4"/><rect x="19" y="22" width="7" height="4"/><rect x="30.5" y="22" width="17" height="4"/><rect x="19" y="31.5" width="7" height="4"/><rect x="30.5" y="31.5" width="17" height="4"/><rect x="9" y="41" width="7" height="4"/><rect x="21" y="41" width="26.5" height="4"/></g></svg><svg width="58" height="58" style="left:1173px;top:802px" viewBox="0 0 58 58"><path d="M0,2 Q0,0 2,0 L56,0 Q58,0 58,2 L58,44 Q58,58 44,58 L14,58 Q0,58 0,44 Z" fill="#3470e2"/><g fill="#fff"><rect x="9" y="12.5" width="7" height="4"/><rect x="21" y="12.5" width="26.5" height="4"/><rect x="19" y="22" width="7" height="4"/><rect x="30.5" y="22" width="17" height="4"/><rect x="19" y="31.5" width="7" height="4"/><rect x="30.5" y="31.5" width="17" height="4"/><rect x="9" y="41" width="7" height="4"/><rect x="21" y="41" width="26.5" height="4"/></g></svg><div class="lbl" style="left:1107px;top:867px;width:189px;height:32px;">synergychat-testram-configmap<br>(ConfigMap)</div><svg width="58" height="58" style="left:1338px;top:802px" viewBox="0 0 58 58"><path d="M0,2 Q0,0 2,0 L56,0 Q58,0 58,2 L58,44 Q58,58 44,58 L14,58 Q0,58 0,44 Z" fill="#3470e2"/><g fill="#fff"><rect x="9" y="12.5" width="7" height="4"/><rect x="21" y="12.5" width="26.5" height="4"/><rect x="19" y="22" width="7" height="4"/><rect x="30.5" y="22" width="17" height="4"/><rect x="19" y="31.5" width="7" height="4"/><rect x="30.5" y="31.5" width="17" height="4"/><rect x="9" y="41" width="7" height="4"/><rect x="21" y="41" width="26.5" height="4"/></g></svg><div class="lbl" style="left:1316px;top:867px;width:101px;height:32px;">kube-root-ca.crt<br>(ConfigMap)</div><div class="lbl" style="left:898px;top:889px;width:165px;height:32px;">synergychat-api-configmap<br>(ConfigMap)</div><div class="lbl" style="left:749px;top:889px;width:171px;height:32px;">synergychat-web-configmap<br>(ConfigMap)</div><div class="bdg" style="left:727.5px;top:890.5px"></div><svg width="12" height="9" style="left:731px;top:896px" viewBox="0 0 12 9"><rect x="3.5" y="0" width="5" height="3" fill="#e8eefc"/><rect x="0.5" y="4" width="11" height="5" fill="#e8eefc"/></svg><div class="lbl" style="left:1055px;top:941px;width:83px;height:32px;background:rgba(205,208,214,0.68)">synergychat<br>(Namespace)</div>
<!-- RIGHT PANEL -->
<svg width="24" height="22" style="left:1657px;top:146px" viewBox="0 0 24 22"><path d="M11.5,9.8 L22.3,15.3 L11.5,20.8 L0.7,15.3 Z" fill="#d2d2d2" stroke="#121212" stroke-width="0.9" stroke-linejoin="round"/><path d="M11.5,5.3 L22.3,10.8 L11.5,16.3 L0.7,10.8 Z" fill="#8c8c8c" stroke="#121212" stroke-width="0.9" stroke-linejoin="round"/><path d="M11.5,0.8 L22.3,6.3 L11.5,11.8 L0.7,6.3 Z" fill="#dadada" stroke="#121212" stroke-width="0.9" stroke-linejoin="round"/></svg>
<div class="tx" style="left:1689.5px;top:149.5px;font-size:15.3px;color:#ececec">Layers</div>
<div class="a" style="left:1763px;top:136px;width:117px;height:42px;border-radius:8px;background:#00b39f"></div>
<div class="a" style="left:1836px;top:136px;width:1.2px;height:42px;background:#e8f8f5"></div>
<div class="tx" style="left:1779px;top:149.5px;font-size:15.2px;color:#f2fffc">Share</div>
<svg width="20" height="20" style="left:1849px;top:147px" viewBox="0 0 20 20"><g fill="none" stroke="#f5fffd" stroke-width="2"><path d="M8.5,11.5 L11.5,8.5"/><path d="M7,9 L4.5,11.5 Q2,14 4.5,16 Q6.5,18 8.5,15.5 L11,13"/><path d="M9,7 L11.5,4.5 Q14,2 16,4.5 Q18,6.5 15.5,8.5 L13,11"/></g></svg>
<div class="a" style="left:1466px;top:186px;width:420px;height:729px;border-radius:10px;overflow:hidden;background:#1a272d">
  <div class="a" style="left:0;top:0;width:420px;height:67px;background:linear-gradient(90deg,#313f45,#3e4d53)"></div>
  <div class="a" style="left:12px;top:67px;width:396px;height:33px;background:#1e2a30;border-radius:0 0 6px 6px"></div>
</div>
<svg width="24" height="8" style="left:1677px;top:190px"><circle cx="4" cy="4" r="2.3" fill="#eee"/><circle cx="12" cy="4" r="2.3" fill="#eee"/><circle cx="20" cy="4" r="2.3" fill="#eee"/></svg>
<svg width="16" height="16" style="left:1840px;top:212px"><path d="M1.5,1.5 L14.5,14.5 M14.5,1.5 L1.5,14.5" stroke="#f5f5f5" stroke-width="2.3"/></svg>
<svg width="23" height="13" style="left:1503px;top:252px"><rect x="0" y="0" width="22" height="12.5" fill="#f0f0f0"/><g fill="#1e2a30"><rect x="3.5" y="0" width="1.5" height="8"/><rect x="8" y="0" width="1.5" height="8"/><rect x="12.5" y="0" width="1.5" height="8"/><rect x="17" y="0" width="1.5" height="8"/></g></svg>
<div class="tx" style="left:1535px;top:252px;font-size:13.7px;color:#cfd6da">CONTAINERS.0</div>
<div class="a" style="left:1798px;top:253px;width:31px;height:22px;background:#1f3a3a;border-radius:0 0 4px 4px"></div>
<svg width="12" height="10" style="left:1807px;top:253px"><g fill="#cfd6da"><rect x="1" y="0" width="2" height="1.6"/><rect x="5" y="0" width="5" height="1.6"/><rect x="1" y="3.5" width="2" height="1.6"/><rect x="5" y="3.5" width="3" height="1.6"/><rect x="1" y="7" width="2" height="1.6"/></g></svg>
<svg width="20" height="10" style="left:1834px;top:252px"><g fill="#dfe5e8"><rect x="0" y="0" width="2.4" height="2"/><rect x="4" y="0" width="14" height="2"/><rect x="0" y="4" width="2.4" height="2"/><rect x="4" y="4" width="14" height="2"/><rect x="0" y="8" width="2.4" height="2"/><rect x="4" y="8" width="14" height="2"/></g></svg>
<div class="rl" style="top:310px">Status</div>
<div class="a" style="left:1584px;top:307px;width:65px;height:25px;border-radius:4px;background:#00b39f"></div>
<div class="tx" style="left:1592px;top:313px;font-size:12.8px;color:#eafffb">Running</div>
<svg width="21" height="20" style="left:1726px;top:303px"><rect x="0" y="0" width="20.5" height="19" rx="2.5" fill="#d5dbde"/><path d="M4.5,5 L8,7.5 L4.5,10 M8.5,11.5 L13,11.5" stroke="#1b272d" stroke-width="1.3" fill="none"/></svg>
<svg width="20" height="19" style="left:1766px;top:303px" viewBox="0 0 20 19"><path d="M9,3 L1,3 L1,18 L17,18 L17,12" fill="none" stroke="#e6e6e6" stroke-width="1.7"/><path d="M3,16 L6.5,11.5 L9,14 L11,12 L15,16 Z" fill="#e6e6e6"/><circle cx="14" cy="6" r="3.8" fill="none" stroke="#e6e6e6" stroke-width="1.7"/><path d="M16.8,8.8 L19.3,11.3" stroke="#e6e6e6" stroke-width="1.8"/></svg>
<svg width="16" height="15" style="left:1846px;top:304px"><path d="M8,0.5 L8,9 M4.5,5.5 L8,9 L11.5,5.5" stroke="#e6e6e6" stroke-width="1.8" fill="none"/><path d="M1,9 L1,13.5 L15,13.5 L15,9" stroke="#e6e6e6" stroke-width="1.8" fill="none"/></svg>
<div class="dv" style="top:340px"></div>
<div class="rl" style="top:363px">Started At</div>
<div class="rv" style="top:363px">8/9/2025, 6:11:28 pm</div>
<div class="dv" style="top:392px"></div>
<div class="rl" style="top:415px">Image Pull</div>
<div class="rl" style="top:440px">Policy</div>
<div class="rv" style="top:415px">Always</div>
<div class="dv" style="top:468px"></div>
<div class="rl" style="top:504px">Total</div>
<div class="rl" style="top:530px">Restarts</div>
<svg width="22" height="50" style="left:1583px;top:499px" viewBox="0 0 22 50"><path d="M12.7,2 Q14,1.6 16.5,1.6 Q19,1.6 19,4 L19,45.5 Q19,47.3 16,47.3 Q12.7,47.3 12.7,45.5 L12.7,9.3 L3.5,14 Q1.6,14.8 1.6,12 L1.6,10 Q1.6,8 3.5,7.2 Z" fill="#8a979d"/></svg>
<div class="rv" style="left:1610px;top:529px">times</div>
<div class="dv" style="top:570px"></div>
<div class="rl" style="top:601px">Image</div>
<div class="vb" style="top:588px;height:41px;padding-top:0">docker.io/bootdotdev/synergychat-<br>web:latest</div>
<div class="dv" style="top:637px"></div>
<div class="rl" style="top:678px">Container</div>
<div class="vb" style="top:655px;height:61px;font-size:13.9px">docker://6d96990655cc952b4423304f3c<br>57d6691d7c3dd26d99af62dfc5843d21a9f0<br>6f</div>
<div class="dv" style="top:725px"></div>
<div class="rl" style="top:758px">Volume</div>
<div class="rl" style="top:784px">Mounts</div>
<div class="vb" style="top:743px;height:41px">/var/run/secrets/kubernetes.io/<br>serviceaccount</div>
<div class="rv" style="top:794px">from kube-api-access-g9c9m (RO)</div>
<div class="dv" style="top:822px"></div>
<div class="rl" style="top:834px">Kind</div>
<div class="rl" style="top:863px;color:#8a969b">Container</div>
<svg width="16" height="16" style="left:1472px;top:891px"><path d="M1.5,14.5 L14.5,1.5 M1.5,14.5 L1.5,9 M1.5,14.5 L7,14.5 M14.5,1.5 L9,1.5 M14.5,1.5 L14.5,7" stroke="#e0e0e0" stroke-width="1.5" fill="none"/></svg>
<div class="a" style="left:1860px;top:473px;width:40px;height:116px;border-radius:8px;background:#00b39f"></div>
<div class="tx" style="left:1886px;top:531px;font-size:16.5px;color:#eafffb;transform:translate(-50%,-50%) rotate(-90deg);transform-origin:center">Feedback</div>
<div class="a" style="left:1827px;top:950px;width:53px;height:53px;border-radius:50%;background:#333"></div>
<svg width="24" height="24" style="left:1843px;top:965px"><circle cx="8" cy="9" r="5.8" fill="none" stroke="#e8e8e8" stroke-width="2"/><path d="M5.5,9 L10.5,9 M8,6.5 L8,11.5" stroke="#e8e8e8" stroke-width="1.3"/><path d="M12.2,13.2 L18.5,19.5" stroke="#e8e8e8" stroke-width="2.3"/></svg>
<!-- TOOLBAR -->
<div class="a" style="left:913px;top:897px;width:135px;height:100px;border-radius:16px;overflow:hidden;background:#1e1e1e">
  <div class="a" style="left:0;top:0;width:51px;height:50px;background:#00b39f"></div>
  <div class="a" style="left:51px;top:0;width:1.5px;height:100px;background:#2a2a2a"></div>
</div>
<svg width="24" height="24" style="left:926px;top:910px" viewBox="0 0 24 24"><path d="M3,2 L22,9.5 L13.5,12 L10,21.5 Z" fill="#fff" stroke="#fff" stroke-width="1.5" stroke-linejoin="round"/></svg>
<svg width="26" height="28" style="left:926px;top:958px" viewBox="0 0 26 28"><path d="M7,15 L7,5 Q7,3 8.8,3 Q10.5,3 10.5,5 L10.5,12 L10.5,3 Q10.5,1 12.3,1 Q14,1 14,3 L14,12 L14,4 Q14,2 15.8,2 Q17.5,2 17.5,4 L17.5,13 L17.5,7 Q17.5,5 19.3,5 Q21,5 21,7 L21,18 Q21,27 13,27 Q7.5,27 5,22 L1.5,15.5 Q0.8,13.5 2.5,13 Q4,12.5 5,14 Z" fill="#fff"/></svg>
<div class="a" style="left:983px;top:929px;width:36px;height:36px;border-radius:8px;background:#e2e4e5"></div>
<div class="tx" style="left:988px;top:931px;width:26px;text-align:center;font-size:31px;font-weight:bold;color:#111">?</div>

</body></html>
